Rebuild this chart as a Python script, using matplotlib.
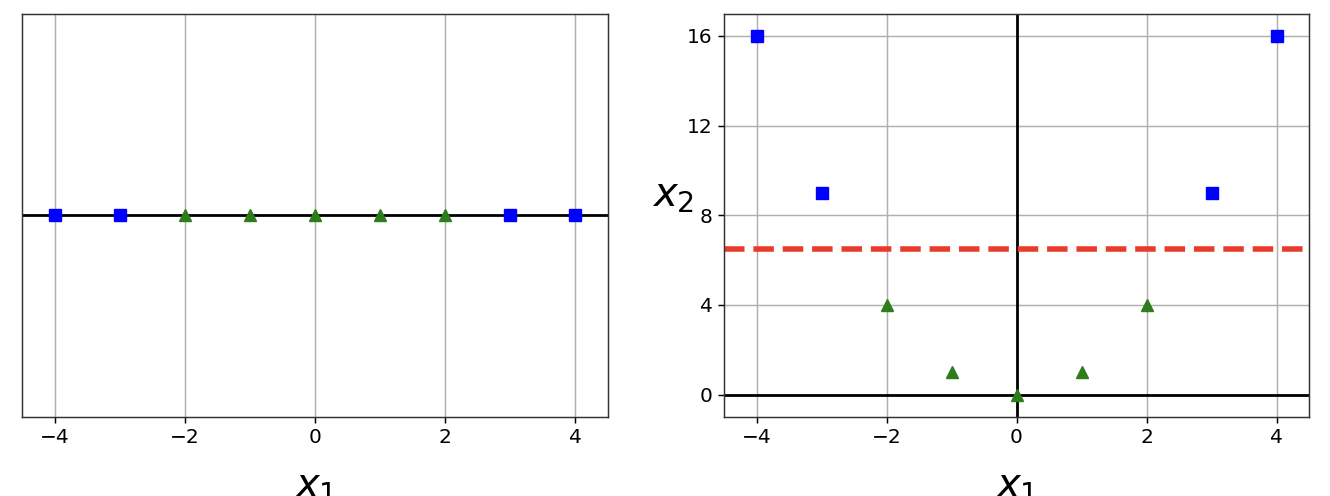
import numpy as np
import matplotlib
matplotlib.use("Agg")
import matplotlib.pyplot as plt

# Data
x1_values = [-4, -3, -2, -1, 0, 1, 2, 3, 4]
labels = [0, 0, 1, 1, 1, 1, 1, 0, 0]
x2_values = [16, 9, 4, 1, 0, 1, 4, 9, 16]
xticks = [-4, -2, 0, 2, 4]
yticks_right = [0, 4, 8, 12, 16]
boundary_y = 6.5

x1 = np.array(x1_values)
x2 = np.array(x2_values)
y = np.array(labels)

BLUE = "#0000ff"
GREEN = "#2e7d1c"
RED = "#ea3a2c"

fig = plt.figure(figsize=(13.3, 4.96), dpi=100)
s = 1.33
tick_fs = 14.5
label_fs = 29

ax1 = fig.add_axes([22/1330, 1-417/496, (608-22)/1330, (417-13.5)/496])
ax2 = fig.add_axes([724/1330, 1-417/496, (1309-724)/1330, (417-13.5)/496])

for ax in (ax1, ax2):
    ax.grid(True, which='both', color='#b0b0b0', linewidth=0.8*s)
    ax.set_axisbelow(True)
    for sp in ax.spines.values():
        sp.set_linewidth(0.8*s)
        sp.set_color('#333333')
    ax.tick_params(labelsize=tick_fs, width=0.8*s, length=3.5*s)

# Left
ax1.axhline(y=0, color='k', linewidth=1.5*s)
ax1.plot(x1[y == 0], np.zeros((y == 0).sum()), "s", color=BLUE, markersize=8.5)
ax1.plot(x1[y == 1], np.zeros((y == 1).sum()), "^", color=GREEN, markersize=8.5)
ax1.set_yticks([])
ax1.set_xticks(xticks)
ax1.set_xlabel(r"$x_1$", fontsize=label_fs, labelpad=14)
ax1.axis([-4.5, 4.5, -0.2, 0.2])

# Right
ax2.axhline(y=0, color='k', linewidth=1.5*s)
ax2.axvline(x=0, color='k', linewidth=1.5*s)
ax2.plot(x1[y == 0], x2[y == 0], "s", color=BLUE, markersize=8.5)
ax2.plot(x1[y == 1], x2[y == 1], "^", color=GREEN, markersize=8.5)
ax2.set_xlabel(r"$x_1$", fontsize=label_fs, labelpad=14)
ax2.set_ylabel(r"$x_2$  ", fontsize=label_fs, rotation=0)
ax2.set_yticks(yticks_right)
ax2.set_xticks(xticks)
ax2.plot([-4.5, 4.5], [boundary_y, boundary_y], "--", color=RED, linewidth=3*s)
ax2.axis([-4.5, 4.5, -1, 17])

fig.savefig("out.png", dpi=100)
